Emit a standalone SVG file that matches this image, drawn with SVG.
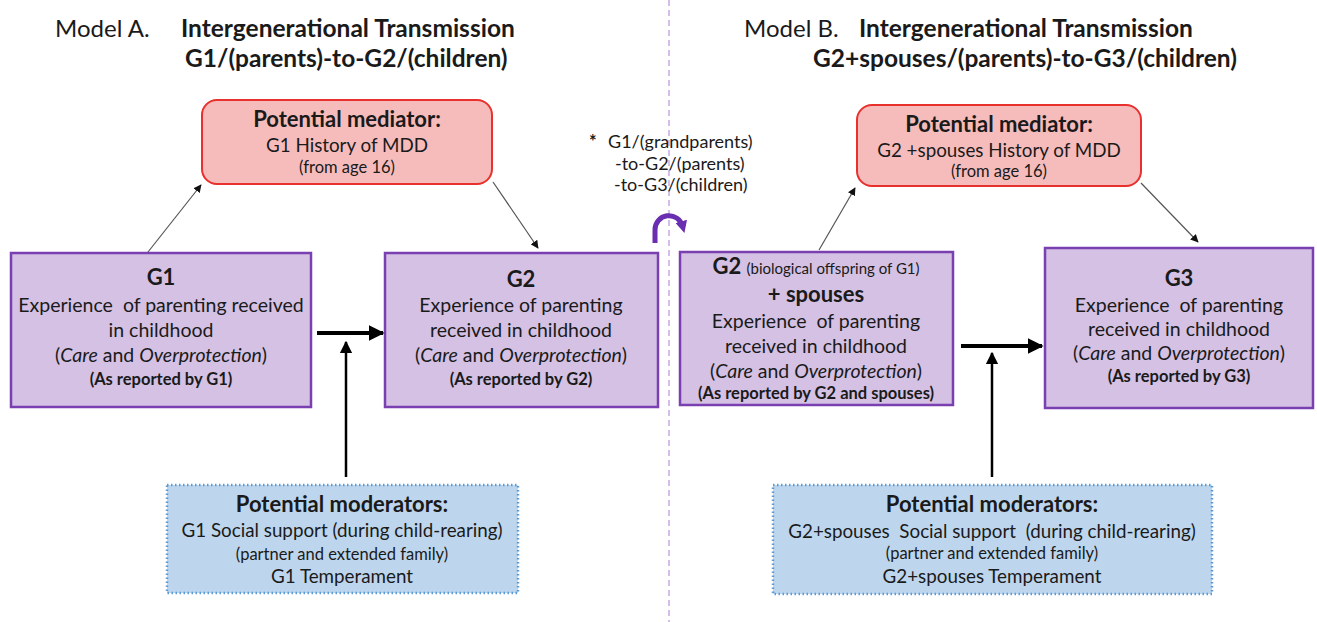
<svg xmlns="http://www.w3.org/2000/svg" width="1317" height="622" viewBox="0 0 1317 622">
<defs>
<style>
text{font-family:Lato,"Liberation Sans",sans-serif;fill:#1a1a1a;text-anchor:middle}
.title{font-size:24px;text-anchor:start}
.bt{font-size:24.5px;font-weight:bold;text-anchor:start}
.h{font-size:22px;font-weight:bold}
.t{font-size:19.5px}
.m{font-size:18.8px}
.s{font-size:16.5px}
.r{font-size:16.5px;font-weight:bold}
.n{font-size:18px;text-anchor:start}
.med{fill:#f6bcbc;stroke:#e8302c;stroke-width:2}
.gen{fill:#d4c1e4;stroke:#7a3fb0;stroke-width:2.5}
.mod{fill:#bdd6ee;stroke:#5b9bd5;stroke-width:2.5;stroke-dasharray:1.5 2.5}
.thin{stroke:#555;stroke-width:1.2;fill:none}
.thick{stroke:#000;stroke-width:4;fill:none}
.vert{stroke:#000;stroke-width:2.5;fill:none}
</style>
<marker id="ah" viewBox="0 0 10 10" refX="9" refY="5" markerWidth="8" markerHeight="8" markerUnits="userSpaceOnUse" orient="auto"><path d="M0,0L10,5L0,10z" fill="#111"/></marker>
<marker id="ahb" viewBox="0 0 10 10" refX="9" refY="5" markerWidth="4" markerHeight="4" orient="auto"><path d="M0,0L10,5L0,10z" fill="#000"/></marker>
<marker id="ahv" viewBox="0 0 10 10" refX="9" refY="5" markerWidth="5" markerHeight="5" orient="auto"><path d="M0,0L10,5L0,10z" fill="#000"/></marker>
<marker id="ahp" viewBox="0 0 10 10" refX="4" refY="5" markerWidth="12" markerHeight="12" markerUnits="userSpaceOnUse" orient="auto"><path d="M0,0L10,5L0,10z" fill="#6a2fb0"/></marker>
</defs>
<rect width="1317" height="622" fill="#fff"/>
<line x1="669" y1="0" x2="669" y2="622" stroke="#c7a9e3" stroke-width="1.5" stroke-dasharray="6 4"/>

<g id="titleA">
<text class="title" x="55" y="37">Model A.</text>
<text class="bt" x="181" y="37">Intergenerational Transmission</text>
<text class="bt" x="185" y="67">G1/(parents)-to-G2/(children)</text>
</g>
<g id="titleB">
<text class="title" x="744" y="37">Model B.</text>
<text class="bt" x="859" y="37">Intergenerational Transmission</text>
<text class="bt" x="813" y="67">G2+spouses/(parents)-to-G3/(children)</text>
</g>

<g id="medA">
<rect class="med" x="202" y="100" width="290" height="84" rx="15"/>
<text class="h" x="347" y="127">Potential mediator:</text>
<text class="m" x="347" y="152">G1 History of MDD</text>
<text class="s" x="347" y="173">(from age 16)</text>
</g>
<g id="G1">
<rect class="gen" x="11" y="253" width="300" height="154"/>
<text class="h" x="161" y="285">G1</text>
<text class="t" x="161" y="312">Experience&#160; of parenting received</text>
<text class="t" x="161" y="337">in childhood</text>
<text class="t" x="161" y="362">(<tspan font-style="italic">Care</tspan> and <tspan font-style="italic">Overprotection</tspan>)</text>
<text class="r" x="161" y="385">(As reported by G1)</text>
</g>
<g id="G2A">
<rect class="gen" x="385" y="253" width="273" height="154"/>
<text class="h" x="521" y="287">G2</text>
<text class="t" x="521" y="312">Experience of parenting</text>
<text class="t" x="521" y="337">received in childhood</text>
<text class="t" x="521" y="362">(<tspan font-style="italic">Care</tspan> and <tspan font-style="italic">Overprotection</tspan>)</text>
<text class="r" x="521" y="385">(As reported by G2)</text>
</g>
<g id="modA">
<rect class="mod" x="167" y="485" width="351" height="108"/>
<text class="h" x="342" y="512">Potential moderators:</text>
<text class="m" x="342" y="537">G1 Social support (during child-rearing)</text>
<text class="s" x="342" y="560">(partner and extended family)</text>
<text class="m" x="342" y="583">G1 Temperament</text>
</g>

<g id="note">
<text class="n" x="589" y="148" style="font-weight:bold">*</text>
<text class="n" x="608" y="148">G1/(grandparents)</text>
<text class="n" x="615" y="170">-to-G2/(parents)</text>
<text class="n" x="614" y="191">-to-G3/(children)</text>
</g>

<g id="medB">
<rect class="med" x="857" y="105" width="284" height="81" rx="15"/>
<text class="h" x="999" y="132">Potential mediator:</text>
<text class="m" x="999" y="157">G2 +spouses History of MDD</text>
<text class="s" x="999" y="177">(from age 16)</text>
</g>
<g id="G2B">
<rect class="gen" x="680" y="252" width="273" height="153"/>
<text class="h" x="816" y="274">G2 <tspan style="font-size:15px;font-weight:normal">(biological offspring of G1)</tspan></text>
<text class="h" x="816" y="302">+ spouses</text>
<text class="t" x="816" y="328">Experience&#160; of parenting</text>
<text class="t" x="816" y="353">received in childhood</text>
<text class="t" x="816" y="378">(<tspan font-style="italic">Care</tspan> and <tspan font-style="italic">Overprotection</tspan>)</text>
<text class="r" x="816" y="399">(As reported by G2 and spouses)</text>
</g>
<g id="G3">
<rect class="gen" x="1045" y="248" width="268" height="160"/>
<text class="h" x="1179" y="286">G3</text>
<text class="t" x="1179" y="312">Experience&#160; of parenting</text>
<text class="t" x="1179" y="336">received in childhood</text>
<text class="t" x="1179" y="360">(<tspan font-style="italic">Care</tspan> and <tspan font-style="italic">Overprotection</tspan>)</text>
<text class="r" x="1179" y="382">(As reported by G3)</text>
</g>
<g id="modB">
<rect class="mod" x="773" y="485" width="439" height="109"/>
<text class="h" x="992" y="512">Potential moderators:</text>
<text class="m" x="992" y="538">G2+spouses&#160; Social support&#160; (during child-rearing)</text>
<text class="s" x="992" y="559">(partner and extended family)</text>
<text class="m" x="992" y="583">G2+spouses Temperament</text>
</g>

<g id="connectors">
<line class="thin" x1="148" y1="252" x2="201" y2="185" marker-end="url(#ah)"/>
<line class="thin" x1="493" y1="182" x2="538" y2="248" marker-end="url(#ah)"/>
<line class="thick" x1="317" y1="333" x2="383" y2="333" marker-end="url(#ahb)"/>
<line class="vert" x1="346" y1="477" x2="346" y2="342" marker-end="url(#ahv)"/>
<line class="thin" x1="819" y1="250" x2="855" y2="188" marker-end="url(#ah)"/>
<line class="thin" x1="1141" y1="183" x2="1198" y2="242" marker-end="url(#ah)"/>
<line class="thick" x1="961" y1="346" x2="1042" y2="346" marker-end="url(#ahb)"/>
<line class="vert" x1="992" y1="477" x2="992" y2="353" marker-end="url(#ahv)"/>
<path d="M655,243 V230 A14,14 0 0 1 682.5,226" stroke="#6a2fb0" stroke-width="5" fill="none" marker-end="url(#ahp)"/>
</g>
</svg>
